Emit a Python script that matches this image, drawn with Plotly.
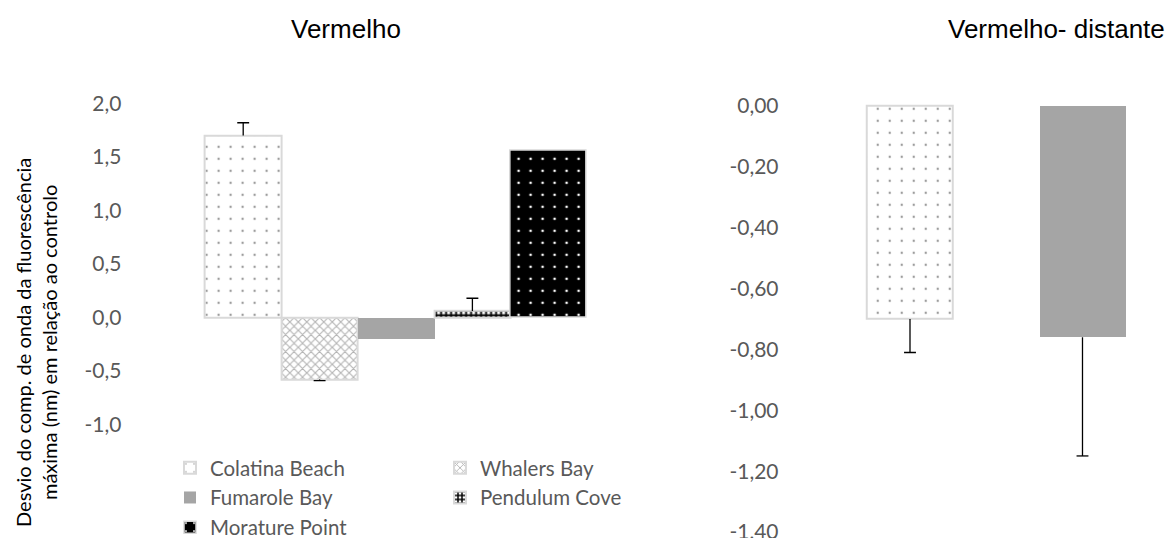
import plotly.graph_objects as go

# ---- data -------------------------------------------------------------
sites = ["Colatina Beach", "Whalers Bay", "Fumarole Bay", "Pendulum Cove", "Morature Point"]
red_values = [1.70, -0.58, -0.20, 0.06, 1.56]
red_errors = [0.12, 0.01, None, 0.12, None]

far_red_sites = ["Colatina Beach", "Fumarole Bay"]
far_red_values = [-0.70, -0.76]
far_red_errors = [0.11, 0.39]

red_ticks = [2.0, 1.5, 1.0, 0.5, 0.0, -0.5, -1.0]
far_red_ticks = [0.0, -0.2, -0.4, -0.6, -0.8, -1.0, -1.2, -1.4]

titles = ["Vermelho", "Vermelho- distante"]
y_title = "Desvio do comp. de onda da fluorescência<br>máxima (nm) em relação ao controlo"

# ---- styling ----------------------------------------------------------
W, H = 1168, 538
BORDER = "#d9d9d9"
TICK_COLOR = "#595959"
BODY_FONT = "Lato"
TITLE_FONT = "Liberation Sans"

site_style = {
    "Colatina Beach": dict(color="white",
                           pattern=dict(shape=".", fgcolor="#9a9a9a", bgcolor="white",
                                        size=12, solidity=0.03, fillmode="replace"),
                           line=dict(color=BORDER, width=2)),
    "Whalers Bay": dict(color="white",
                        pattern=dict(shape="x", fgcolor="#b5b5b5", bgcolor="white",
                                     size=6, solidity=0.35, fillmode="replace"),
                        line=dict(color=BORDER, width=2)),
    "Fumarole Bay": dict(color="#a5a5a5", line=dict(width=0)),
    "Pendulum Cove": dict(color="white",
                          pattern=dict(shape="+", fgcolor="black", bgcolor="white",
                                       size=5, solidity=0.6, fillmode="replace"),
                          line=dict(color=BORDER, width=2)),
    "Morature Point": dict(color="black",
                           pattern=dict(shape=".", fgcolor="white", bgcolor="black",
                                        size=12, solidity=0.04, fillmode="replace"),
                           line=dict(color=BORDER, width=1.5)),
}
legend_of = {"Colatina Beach": "legend", "Fumarole Bay": "legend", "Morature Point": "legend",
             "Whalers Bay": "legend2", "Pendulum Cove": "legend2"}


def px_x(p):
    return p / W


def px_y(p):
    return 1 - p / H


def comma_labels(values, decimals):
    # decimal comma and a plain hyphen for the minus sign
    return [f"{v:.{decimals}f}".replace(".", ",") for v in values]


fig = go.Figure()

# ---- left panel: red --------------------------------------------------
for site, val in zip(sites, red_values):
    fig.add_trace(go.Bar(
        x=[site], y=[val], name=site, width=1,
        marker=site_style[site], legend=legend_of[site],
        xaxis="x", yaxis="y", hoverinfo="skip",
    ))


def add_error(site, val, err, xa, ya):
    # one-sided error bar pointing away from zero, capped at its tip
    tip = val + err if val >= 0 else val - err
    up, down = ([0], [err]) if val >= 0 else ([err], [0])
    fig.add_trace(go.Scatter(
        x=[site], y=[tip], mode="markers", showlegend=False, hoverinfo="skip",
        marker=dict(symbol="line-ew", size=8.5, color="black",
                    line=dict(width=1.3, color="black")),
        error_y=dict(type="data", symmetric=False, array=up, arrayminus=down,
                     width=0, thickness=1.3, color="black"),
        xaxis=xa, yaxis=ya,
    ))


for site, val, err in zip(sites, red_values, red_errors):
    if err:
        add_error(site, val, err, "x", "y")

# ---- right panel: far red ---------------------------------------------
for site, val in zip(far_red_sites, far_red_values):
    fig.add_trace(go.Bar(
        x=[site], y=[val], name=site, width=0.5, showlegend=False,
        marker=site_style[site], xaxis="x2", yaxis="y2", hoverinfo="skip",
    ))
for site, val, err in zip(far_red_sites, far_red_values, far_red_errors):
    add_error(site, val, err, "x2", "y2")

# ---- axes -------------------------------------------------------------
tick_font = dict(family=BODY_FONT, size=21, color=TICK_COLOR)

# left: zero at 317.5 px, 107 px per unit
Y1_ZERO, Y1_SCALE = 317.5, 107.0
y1_lo, y1_hi = -1.1, 2.1
# right: zero at 106 px, 304.3 px per unit
Y2_ZERO, Y2_SCALE = 106.0, 304.3
y2_lo, y2_hi = -1.41, 0.05

fig.update_layout(
    xaxis=dict(domain=[px_x(128.6), px_x(663.4)], range=[-1.5, 5.5],
               type="category", categoryorder="array", categoryarray=sites,
               showticklabels=False, showgrid=False, zeroline=False, showline=False,
               ticks=""),
    yaxis=dict(domain=[px_y(Y1_ZERO - y1_lo * Y1_SCALE), px_y(Y1_ZERO - y1_hi * Y1_SCALE)],
               range=[y1_lo, y1_hi], tickvals=red_ticks, ticktext=comma_labels(red_ticks, 1),
               tickfont=tick_font, showgrid=False, zeroline=False, showline=False,
               ticks="outside", ticklen=2, tickcolor="rgba(0,0,0,0)", automargin=False),
    xaxis2=dict(domain=[px_x(823.75), 1.0], range=[-0.5, 1.4957],
                type="category", categoryorder="array", categoryarray=far_red_sites,
                showticklabels=False, showgrid=False, zeroline=False, showline=False,
                ticks=""),
    yaxis2=dict(domain=[max(0.0, px_y(Y2_ZERO - y2_lo * Y2_SCALE)),
                        px_y(Y2_ZERO - y2_hi * Y2_SCALE)],
                range=[y2_lo, y2_hi], tickvals=far_red_ticks,
                ticktext=comma_labels(far_red_ticks, 2),
                tickfont=tick_font, showgrid=False, zeroline=False, showline=False,
                ticks="outside", ticklen=40, tickcolor="rgba(0,0,0,0)",
                ticklabeloverflow="allow",
                anchor="x2", automargin=False),
)

# ---- titles and axis label --------------------------------------------
title_font = dict(family=TITLE_FONT, size=26, color="black")
fig.add_annotation(text=titles[0], x=px_x(346), y=px_y(29), xref="paper", yref="paper",
                   showarrow=False, font=title_font, xanchor="center", yanchor="middle")
fig.add_annotation(text=titles[1], x=px_x(1056.5), y=px_y(29), xref="paper", yref="paper",
                   showarrow=False, font=title_font, xanchor="center", yanchor="middle")
fig.add_annotation(text=y_title, x=px_x(36), y=px_y(343), xref="paper", yref="paper",
                   showarrow=False, textangle=-90, xanchor="center", yanchor="middle",
                   font=dict(family=BODY_FONT, size=20, color="black"))

legend_common = dict(orientation="v", xanchor="left", yanchor="top",
                     bgcolor="rgba(0,0,0,0)", borderwidth=0, tracegroupgap=0,
                     itemwidth=30, traceorder="normal",
                     font=dict(family=BODY_FONT, size=20.5, color=TICK_COLOR))

fig.update_layout(
    width=W, height=H, autosize=False,
    margin=dict(l=0, r=0, t=0, b=0, autoexpand=False),
    paper_bgcolor="white", plot_bgcolor="white",
    barmode="overlay", bargap=0,
    legend=dict(x=px_x(170), y=px_y(448), **legend_common),
    legend2=dict(x=px_x(440), y=px_y(448), **legend_common),
)

fig.write_html("out.html")
